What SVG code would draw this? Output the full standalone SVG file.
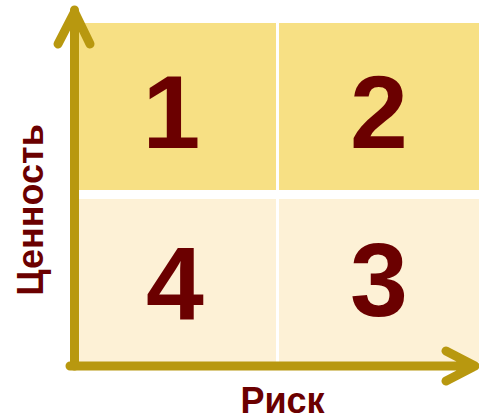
<svg xmlns="http://www.w3.org/2000/svg" width="479" height="418" viewBox="0 0 479 418">
<style>
.top{fill:#F7E084}
.bot{fill:#FDF1D6}
.num{font-family:"Liberation Sans",Arial,sans-serif;font-weight:bold;font-size:104px;fill:#6B0000;text-anchor:middle}
.lbl{font-family:"Liberation Sans",Arial,sans-serif;font-weight:bold;font-size:36px;fill:#6B0000;text-anchor:middle}
.axis{stroke:#B8980F;stroke-width:9;fill:none;stroke-linecap:round;stroke-linejoin:round}
</style>
<g id="q1"><rect class="top" x="79" y="23" width="197" height="167"/><text class="num" x="171.5" y="148">1</text></g>
<g id="q2"><rect class="top" x="279" y="23" width="200" height="167"/><text class="num" x="379" y="148">2</text></g>
<g id="q4"><rect class="bot" x="79" y="199" width="197" height="163"/><text class="num" x="175" y="320">4</text></g>
<g id="q3"><rect class="bot" x="279" y="199" width="200" height="163"/><text class="num" x="379" y="316">3</text></g>
<g id="connectors">
<path class="axis" d="M74.5 366 V10 M58 44 L74.5 12 L90 44"/>
<path class="axis" d="M70 366 H475 M446 351 L475 366 L446 381"/>
</g>
<g id="label-y"><text class="lbl" transform="translate(43 210) rotate(-90)">Ценность</text></g>
<g id="label-x"><text class="lbl" x="282.5" y="413">Риск</text></g>
</svg>
